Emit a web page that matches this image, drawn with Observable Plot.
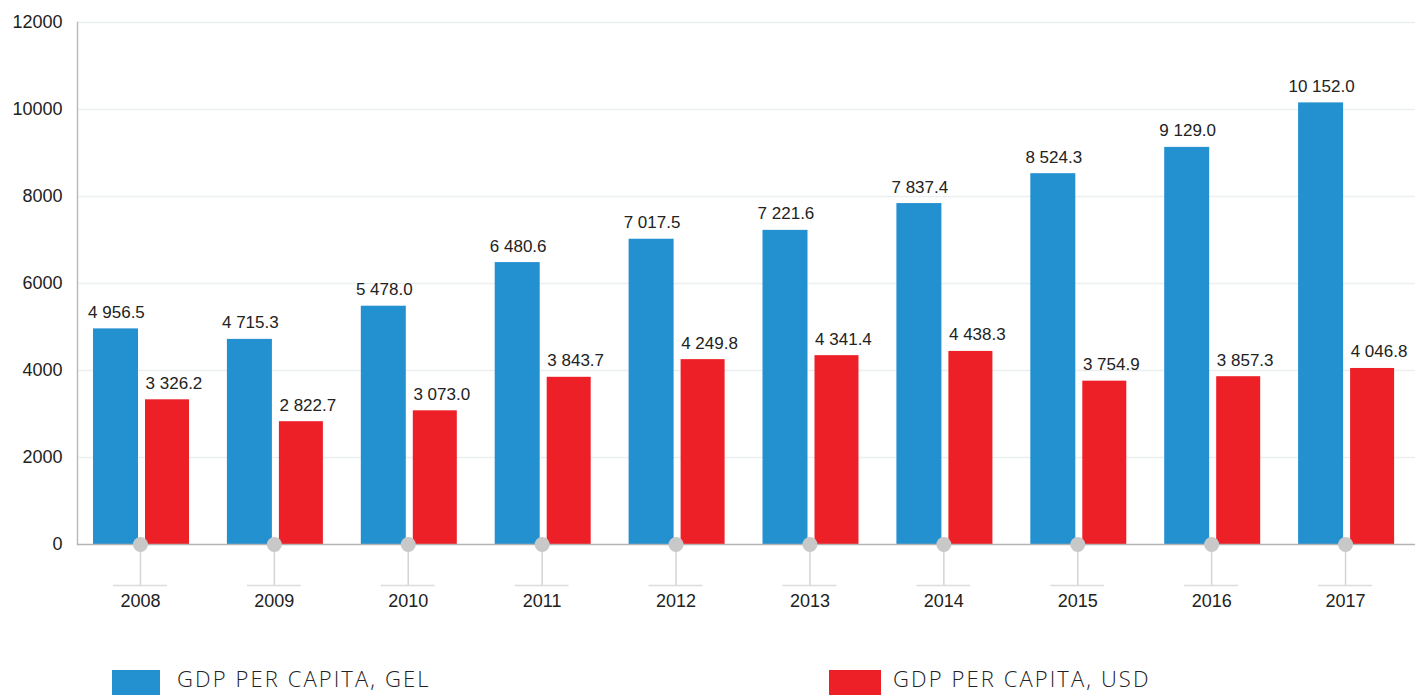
<!DOCTYPE html>
<html>
<head>
<meta charset="utf-8">
<script src="https://cdn.jsdelivr.net/npm/d3@7"></script>
<script src="https://cdn.jsdelivr.net/npm/@observablehq/plot@0.6"></script>
<style>
  html, body { margin: 0; padding: 0; background: #fff; }
  #wrap { position: relative; width: 1421px; height: 695px; overflow: hidden; font-family: "Liberation Sans", Arial, sans-serif; }
  #wrap svg { display: block; }
  .leg { position: absolute; top: 670px; display: flex; align-items: flex-start; }
  .sw { height: 25px; }
  .lt { font-family: "Open Sans", sans-serif; font-weight: 300; font-size: 22px; letter-spacing: 2.1px; color: #222; line-height: 1; margin-top: -3px; white-space: nowrap; }
</style>
</head>
<body>
<div id="wrap"></div>
<script>
const years = [2008, 2009, 2010, 2011, 2012, 2013, 2014, 2015, 2016, 2017];
const gdpGel = [4956.5, 4715.3, 5478.0, 6480.6, 7017.5, 7221.6, 7837.4, 8524.3, 9129.0, 10152.0];
const gdpUsd = [3326.2, 2822.7, 3073.0, 3843.7, 4249.8, 4341.4, 4438.3, 3754.9, 3857.3, 4046.8];
const yTicks = [0, 2000, 4000, 6000, 8000, 10000, 12000];
const seriesNames = ["GDP PER CAPITA, GEL", "GDP PER CAPITA, USD"];

const blue = "#2391d0";
const red = "#ed1f27";

const fmt = d3.formatLocale({decimal: ".", thousands: " ", grouping: [3], currency: ["", ""]}).format(",.1f");

const gelRows = years.map((y, i) => ({year: y, value: gdpGel[i]}));
const usdRows = years.map((y, i) => ({year: y, value: gdpUsd[i]}));

const chart = Plot.plot({
  width: 1421,
  height: 630,
  marginTop: 22,
  marginBottom: 86,
  marginLeft: 77,
  marginRight: 6,
  style: {fontFamily: "'Liberation Sans', Arial, sans-serif", fontSize: "18px", color: "#222", background: "#fff"},
  x: {type: "band", domain: years, range: [73, 1412], padding: 0, round: false, axis: null, label: null},
  y: {domain: [0, 12000], axis: null, label: null},
  marks: [
    Plot.ruleY(yTicks.filter(d => d > 0), {stroke: "#ecefef", strokeWidth: 1.5}),
    Plot.frame({anchor: "left", stroke: "#bbb", strokeWidth: 1.5}),
    Plot.axisY({ticks: yTicks, tickSize: 0, tickPadding: 15, tickFormat: d => String(d), fontSize: 18, fill: "#222", letterSpacing: "0.8px", label: null}),
    Plot.barY(gelRows, {x: "year", y: "value", fill: blue, insetLeft: 20, insetRight: 68.9}),
    Plot.barY(usdRows, {x: "year", y: "value", fill: red, insetLeft: 72, insetRight: 17.9}),
    Plot.ruleY([0], {stroke: "#b4b4b4", strokeWidth: 1.5}),
    Plot.axisX({tickSize: 41, stroke: "#d4d4d4", strokeWidth: 1.5, tickPadding: 9, tickFormat: d => String(d), fontSize: 18, fill: "#222", letterSpacing: "0.3px", label: null}),
    Plot.tickY(years, {x: d => d, y: 0, dy: 41, insetLeft: 40, insetRight: 40, stroke: "#dcdcdc", strokeWidth: 1.5}),
    Plot.dot(years, {x: d => d, y: 0, r: 7.5, fill: "#c8c8c8", stroke: "none"}),
    Plot.text(gelRows, {x: "year", y: "value", text: d => fmt(d.value), dx: -24, dy: -11, lineAnchor: "bottom", fontSize: 17, fill: "#222", letterSpacing: "1px"}),
    Plot.text(usdRows, {x: "year", y: "value", text: d => fmt(d.value), dx: 33.5, dy: -11, lineAnchor: "bottom", fontSize: 17, fill: "#222", letterSpacing: "1px"})
  ]
});

const wrap = document.getElementById("wrap");
wrap.appendChild(chart);

const legendSpecs = [
  {name: seriesNames[0], color: blue, left: 112, sw: 48, gap: 17},
  {name: seriesNames[1], color: red, left: 829, sw: 52, gap: 12}
];
for (const s of legendSpecs) {
  const item = document.createElement("div");
  item.className = "leg";
  item.style.left = s.left + "px";
  const sw = document.createElement("div");
  sw.className = "sw";
  sw.style.width = s.sw + "px";
  sw.style.background = s.color;
  const lt = document.createElement("div");
  lt.className = "lt";
  lt.style.marginLeft = s.gap + "px";
  lt.textContent = s.name;
  item.appendChild(sw);
  item.appendChild(lt);
  wrap.appendChild(item);
}
</script>
</body>
</html>
